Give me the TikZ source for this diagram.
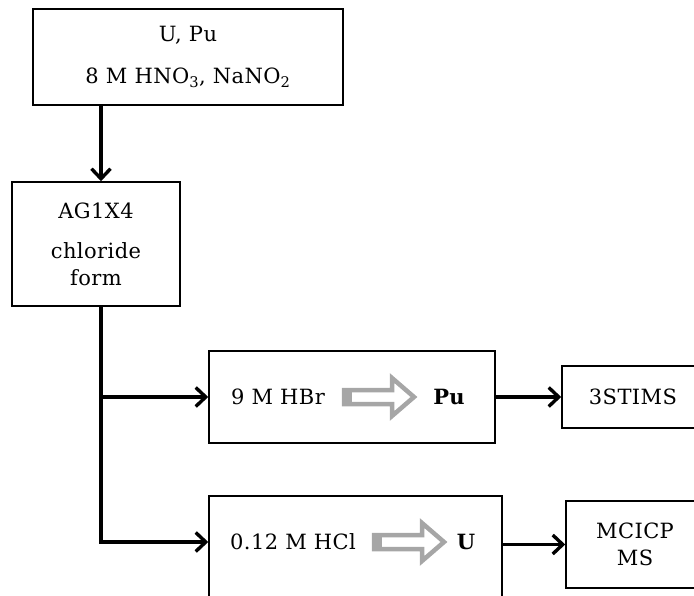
\documentclass[tikz,border=0pt]{standalone}
\usepackage{fontspec}
\setmainfont[LetterSpace=2]{DejaVu Serif}
\usetikzlibrary{positioning}
\usetikzlibrary{calc}
\usetikzlibrary{arrows.meta}
\definecolor{arrowgray}{RGB}{166,166,166}

\tikzset{
  box/.style={draw, line width=1.6pt, inner sep=0pt, align=center},
  flow/.style={line width=3.4pt, -{Straight Barb[length=10pt, width=19pt, line width=3.4pt]}},
  hollow/.style={draw=arrowgray, line width=4.5pt, fill=white, line join=miter},
  hollow arrow/.pic={
    \draw[hollow] (0,-7) -- (48,-7) -- (48,-19) -- (70,0) -- (48,19) -- (48,7) -- (0,7) -- cycle;
    \fill[arrowgray] (-2.2,-9.2) rectangle (8,9.2);
  }
}

\begin{document}
\begin{tikzpicture}[x=1pt, y=-1pt, font=\fontsize{21}{27}\selectfont]
    \useasboundingbox (0,0) rectangle (694,596);
    \clip (0,0) rectangle (694,596);

    % feed solution
    \node[box, minimum width=310, minimum height=96] (feed) at (188,57)
        {U, Pu\\[15pt]8 M HNO\textsubscript{3}, NaNO\textsubscript{2}};
    % resin column
    \node[box, minimum width=168, minimum height=124] (resin) at (96,244)
        {AG1X4\\[13pt]chloride\\form};

    % Pu elution
    \node[box, minimum width=286, minimum height=92] (hbrbox) at (352,397) {};
    \node (hbr) at (278,397) {9 M HBr};
    \pic at (344,397) {hollow arrow};
    \node[font=\fontsize{21}{27}\selectfont\bfseries] (pu) at (449,397) {Pu};
    \node[box, minimum width=142, minimum height=62] (stims) at (633,397) {3STIMS};

    % U elution
    \node[box, minimum width=293, minimum height=150] (hclbox) at (355.5,571) {};
    \node (hcl) at (293,542) {0.12 M HCl};
    \pic at (374,542) {hollow arrow};
    \node[font=\fontsize{21}{27}\selectfont\bfseries] (u) at (466,542) {U};
    \node[box, minimum width=138, minimum height=87] (icp) at (635,544.5) {MCICP\\MS};

    % connectors
    \coordinate (split) at (101,542);
    \draw[flow] (feed.south -| split) -- (resin.north -| split);
    \draw[flow] (resin.south -| split) |- (hcl -| hclbox.west);
    \draw[flow] (hbrbox.west -| split) -- (hbrbox.west);
    \draw[flow] (hbrbox.east) -- (stims.west);
    \draw[flow] (icp.west -| hclbox.east) -- (icp.west);
\end{tikzpicture}
\end{document}
